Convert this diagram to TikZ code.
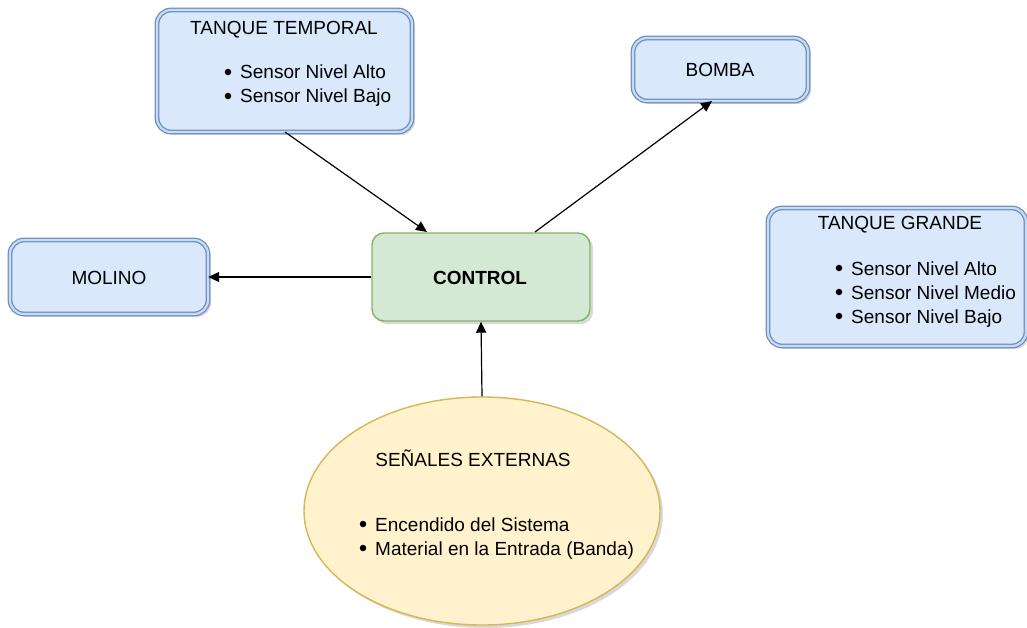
\documentclass[tikz,border=0pt]{standalone}
\usepackage{fontspec}
\setmainfont{Liberation Sans}
\usetikzlibrary{shapes.geometric,shadows,arrows.meta}
\definecolor{bluefill}{HTML}{DAE8FC}
\definecolor{bluedraw}{HTML}{6C8EBF}
\definecolor{greenfill}{HTML}{D5E8D4}
\definecolor{greendraw}{HTML}{82B366}
\definecolor{yellowfill}{HTML}{FFF2CC}
\definecolor{yellowdraw}{HTML}{D6B656}
\begin{document}
\begin{tikzpicture}[x=1pt,y=-1pt,
  every node/.style={font=\fontsize{19}{23}\selectfont, inner sep=0pt},
  shade/.style={drop shadow={opacity=0.3, shadow xshift=3pt, shadow yshift=-3pt}},
  bluebox/.style={rounded corners=14pt, draw=bluedraw, line width=1.3pt,
    double=bluefill!85!bluedraw, double distance=2.2pt, fill=bluefill, shade},
  greenbox/.style={rounded corners=12pt, draw=greendraw, line width=1.4pt,
    fill=greenfill, shade},
  cloud/.style={ellipse, draw=yellowdraw, line width=1.4pt, fill=yellowfill, shade},
  label/.style={anchor=base},
  item/.style={anchor=base west},
  bul/.style={circle, fill=black, minimum size=6.5pt},
  link/.style={line width=1.2pt, -{Triangle[length=11pt,width=10pt]}}]
\useasboundingbox (0,0) rectangle (1027,628);

% boxes
\draw[bluebox] (157,10) rectangle (412,132);
\node[inner sep=0, minimum width=255pt, minimum height=122pt] (tt) at (284.5,71) {};
\draw[bluebox] (633,38) rectangle (808,101);
\node[inner sep=0, minimum width=175pt, minimum height=63pt] (bomba) at (720.5,69.5) {};
\draw[bluebox] (768,208) rectangle (1026,346);
\node[inner sep=0, minimum width=258pt, minimum height=138pt] (tg) at (897,277) {};
\draw[bluebox] (10,240) rectangle (208,314);
\node[inner sep=0, minimum width=198pt, minimum height=74pt] (molino) at (109,277) {};
\node[greenbox, minimum width=218pt, minimum height=88pt] (control) at (481,277) {};
\node[cloud, minimum width=356pt, minimum height=228pt] (ext) at (482,511) {};

% texts
\node[label] (ttt) at (284,35) {TANQUE TEMPORAL};
\node[bul] (tb1) at (228,72) {};
\node[item] (tt1) at (240,79) {Sensor Nivel Alto};
\node[bul] (tb2) at (228,96) {};
\node[item] (tt2) at (240,103) {Sensor Nivel Bajo};

\node[label] (bt) at (720,77) {BOMBA};
\node[label] (mt) at (109,284) {MOLINO};
\node[label, font=\fontsize{19}{23}\selectfont\bfseries] (ct) at (480,284) {CONTROL};

\node[label] (tgt) at (900,230) {TANQUE GRANDE};
\node[bul] (gb1) at (839,268) {};
\node[item] (tg1) at (851,275) {Sensor Nivel Alto};
\node[bul] (gb2) at (839,292) {};
\node[item] (tg2) at (851,299) {Sensor Nivel Medio};
\node[bul] (gb3) at (839,316) {};
\node[item] (tg3) at (851,323) {Sensor Nivel Bajo};

\node[label] (et) at (473,466) {SEÑALES EXTERNAS};
\node[bul] (eb1) at (363,524) {};
\node[item] (e1) at (375,531) {Encendido del Sistema};
\node[bul] (eb2) at (363,548) {};
\node[item] (e2) at (375,555) {Material en la Entrada (Banda)};

% connectors
\coordinate (ttout) at (285,132);
\coordinate (ctin) at (427,232);
\coordinate (ctout) at (535,232);
\coordinate (bin) at (712,101);
\draw[link] (ttout) -- (ctin);
\draw[link] (ctout) -- (bin);
\draw[link] (control.west) -- (molino.east);
\draw[link] (ext.north) -- (control.south);
\end{tikzpicture}
\end{document}
